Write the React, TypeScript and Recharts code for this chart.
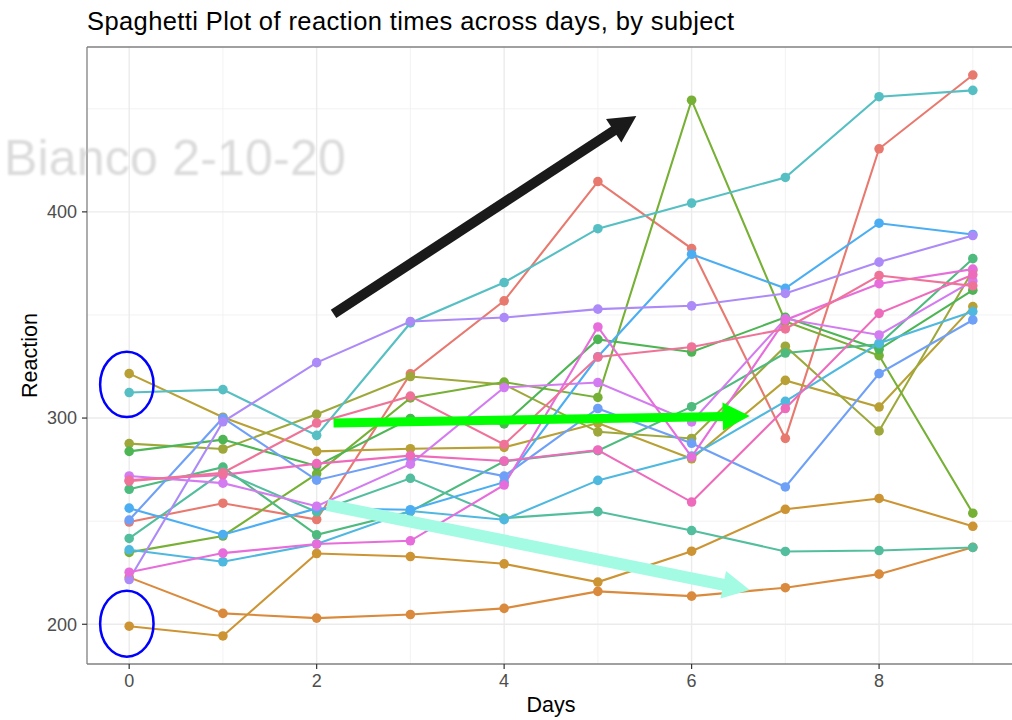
import { LineChart, Line, XAxis, YAxis, ReferenceLine, ReferenceArea } from 'recharts';

// sleepstudy: reaction time (ms) per subject, days 0..9
const DAYS = [0, 1, 2, 3, 4, 5, 6, 7, 8, 9];
const SUBJECTS = ['308', '309', '310', '330', '331', '332', '333', '334', '335', '337', '349', '350', '351', '352', '369', '370', '371', '372'];

const R308 = [249.56, 258.7, 250.8, 321.44, 356.85, 414.69, 382.2, 290.15, 430.59, 466.35];
const R309 = [222.73, 205.27, 202.98, 204.71, 207.72, 215.96, 213.63, 217.73, 224.3, 237.31];
const R310 = [199.05, 194.33, 234.32, 232.84, 229.31, 220.46, 235.42, 255.75, 261.01, 247.52];
const R330 = [321.54, 300.4, 283.86, 285.13, 285.8, 297.59, 280.24, 318.26, 305.35, 354.05];
const R331 = [287.61, 285.0, 301.82, 320.12, 316.28, 293.32, 290.08, 334.82, 293.75, 371.58];
const R332 = [234.86, 242.81, 272.96, 309.77, 317.46, 310.0, 454.16, 346.83, 330.3, 253.86];
const R333 = [283.84, 289.56, 276.77, 299.81, 297.17, 338.17, 332.03, 348.84, 333.36, 362.04];
const R334 = [265.47, 276.2, 243.36, 254.67, 279.02, 284.19, 305.52, 331.52, 335.75, 377.3];
const R335 = [241.61, 273.95, 254.49, 270.8, 251.45, 254.64, 245.45, 235.31, 235.75, 237.25];
const R337 = [312.37, 313.81, 291.61, 346.12, 365.73, 391.84, 404.26, 416.69, 455.86, 458.92];
const R349 = [236.1, 230.32, 238.93, 254.92, 250.71, 269.77, 281.56, 308.1, 336.28, 351.65];
const R350 = [256.3, 243.45, 256.2, 255.53, 268.92, 329.72, 379.44, 362.92, 394.49, 389.05];
const R351 = [250.53, 300.06, 269.89, 280.59, 271.83, 304.63, 287.75, 266.6, 321.54, 347.57];
const R352 = [221.68, 298.19, 326.88, 346.86, 348.74, 352.83, 354.43, 360.43, 375.64, 388.54];
const R369 = [271.92, 268.44, 257.24, 277.66, 314.82, 317.21, 298.14, 348.12, 340.28, 366.51];
const R370 = [225.26, 234.52, 238.9, 240.47, 267.54, 344.19, 281.15, 347.59, 365.16, 372.23];
const R371 = [269.88, 272.44, 277.9, 281.79, 279.17, 284.51, 259.27, 304.63, 350.78, 369.47];
const R372 = [269.41, 273.47, 297.6, 310.63, 287.17, 329.61, 334.48, 343.22, 369.14, 364.12];

const SERIES = [R308, R309, R310, R330, R331, R332, R333, R334, R335, R337, R349, R350, R351, R352, R369, R370, R371, R372];

const COLORS = [
  '#E8796F', '#DA8A3C', '#CC9433', '#B8A034', '#9EA83A', '#76B034',
  '#4DB553', '#4DBA7E', '#53BE9E', '#56BFC3', '#4EB8DF', '#4BAEF3',
  '#6EA0F7', '#AC8AF8', '#D37BF0', '#E66DDB', '#EE6BBC', '#EF7398',
];

const X_TICKS = [0, 2, 4, 6, 8];
const X_MINOR = [1, 3, 5, 7, 9];
const Y_TICKS = [200, 300, 400];
const Y_MINOR = [250, 350, 450];

// annotations, in data units
const ARROWS = [
  { from: [2.18, 350.5], to: [5.41, 446.5], color: '#1A1A1A', width: 10 },
  { from: [2.18, 297.6], to: [6.62, 301.0], color: '#00FF00', width: 9 },
  { from: [2.11, 257.9], to: [6.62, 216.6], color: '#A3FBE4', width: 12 },
];
const CIRCLES = [
  { x: [-0.31, 0.26], y: [300.5, 332.1] },
  { x: [-0.31, 0.26], y: [184.3, 216.3] },
];

const rows = DAYS.map((d, i) => {
  const r: Record<string, number> = { day: d };
  SUBJECTS.forEach((s, k) => { r['s' + s] = SERIES[k][i]; });
  return r;
});

const all = SERIES.flat();
const yMin = Math.min(...all);
const yMax = Math.max(...all);
const pad = (yMax - yMin) * 0.05;
const Y_DOMAIN = [yMin - pad, yMax + pad];
const X_DOMAIN = [-0.45, 9.45];

const FONT = '"Liberation Sans", Arial, Helvetica, sans-serif';
const BORDER = '#808080';

function arrowShape(color: string, w: number) {
  return (p: any) => {
    const { x1, y1, x2, y2 } = p;
    if ([x1, y1, x2, y2].some((v) => v == null || isNaN(v))) return <g />;
    const dx = x2 - x1;
    const dy = y2 - y1;
    const len = Math.sqrt(dx * dx + dy * dy);
    const ux = dx / len;
    const uy = dy / len;
    const hl = 27;
    const hw = 14;
    const bx = x2 - ux * hl;
    const by = y2 - uy * hl;
    const nx = -uy;
    const ny = ux;
    return (
      <g>
        <line x1={x1} y1={y1} x2={bx + ux * 2} y2={by + uy * 2} stroke={color} strokeWidth={w} />
        <polygon
          points={`${x2},${y2} ${bx + nx * hw},${by + ny * hw} ${bx - nx * hw},${by - ny * hw}`}
          fill={color}
        />
      </g>
    );
  };
}

const ellipseShape = (p: any) => {
  const { x, y, width, height } = p;
  if ([x, y, width, height].some((v) => v == null || isNaN(v))) return <g />;
  return (
    <ellipse
      cx={x + width / 2}
      cy={y + height / 2}
      rx={Math.abs(width) / 2}
      ry={Math.abs(height) / 2}
      fill="none"
      stroke="#0000FF"
      strokeWidth={2.5}
    />
  );
};

export default function App() {
  return (
    <div style={{ position: 'absolute', left: 0, top: 0, width: 1012, height: 720, overflow: 'hidden', background: '#fff', fontFamily: FONT }}>
      <LineChart
        width={1030}
        height={720}
        data={rows}
        margin={{ top: 47, right: 15, bottom: 0, left: 0 }}
        style={{ fontFamily: FONT }}
      >
        {X_MINOR.map((v) => (
          <ReferenceLine key={'xm' + v} x={v} stroke="#F0F0F0" strokeWidth={0.9} zIndex={-50} />
        ))}
        {Y_MINOR.map((v) => (
          <ReferenceLine key={'ym' + v} y={v} stroke="#F0F0F0" strokeWidth={0.9} zIndex={-50} />
        ))}
        {X_TICKS.map((v) => (
          <ReferenceLine key={'xg' + v} x={v} stroke="#EBEBEB" strokeWidth={1.4} zIndex={-50} />
        ))}
        {Y_TICKS.map((v) => (
          <ReferenceLine key={'yg' + v} y={v} stroke="#EBEBEB" strokeWidth={1.4} zIndex={-50} />
        ))}
        <ReferenceLine y={Y_DOMAIN[1]} stroke={BORDER} strokeWidth={1.3} ifOverflow="visible" zIndex={-40} />
        <XAxis
          type="number"
          dataKey="day"
          domain={X_DOMAIN}
          ticks={X_TICKS}
          allowDataOverflow
          height={56}
          tickSize={5}
          tickMargin={5}
          axisLine={{ stroke: BORDER, strokeWidth: 1.3 }}
          tickLine={{ stroke: '#333333', strokeWidth: 1.2 }}
          tick={{ fill: '#4D4D4D', fontSize: 18, fontFamily: FONT }}
          label={{ value: 'Days', position: 'insideBottom', offset: 8, fill: '#000', fontSize: 21.5, fontFamily: FONT }}
        />
        <YAxis
          type="number"
          domain={Y_DOMAIN}
          ticks={Y_TICKS}
          allowDataOverflow
          width={87}
          tickSize={5}
          tickMargin={5}
          axisLine={{ stroke: BORDER, strokeWidth: 1.3 }}
          tickLine={{ stroke: '#333333', strokeWidth: 1.2 }}
          tick={{ fill: '#4D4D4D', fontSize: 18, fontFamily: FONT }}
          label={{ value: 'Reaction', angle: -90, position: 'insideLeft', offset: 29, fill: '#000', fontSize: 21.5, fontFamily: FONT, style: { textAnchor: 'middle' } }}
        />
        {SUBJECTS.map((s, k) => (
          <Line
            key={s}
            dataKey={'s' + s}
            type="linear"
            stroke={COLORS[k]}
            strokeWidth={2.1}
            dot={{ r: 4.8, fill: COLORS[k], stroke: 'none' }}
            activeDot={false}
            isAnimationActive={false}
          />
        ))}
        {CIRCLES.map((c, i) => (
          <ReferenceArea
            key={'c' + i}
            x1={c.x[0]}
            x2={c.x[1]}
            y1={c.y[0]}
            y2={c.y[1]}
            ifOverflow="visible"
            shape={ellipseShape}
            zIndex={1000}
          />
        ))}
        {ARROWS.map((a, i) => (
          <ReferenceLine
            key={'a' + i}
            segment={[{ x: a.from[0], y: a.from[1] }, { x: a.to[0], y: a.to[1] }]}
            ifOverflow="visible"
            shape={arrowShape(a.color, a.width)}
            zIndex={1000}
          />
        ))}
      </LineChart>
      <div style={{ position: 'absolute', left: 87, top: 8.5, fontSize: 25.5, letterSpacing: 0.4, lineHeight: 1, color: '#000', whiteSpace: 'nowrap' }}>
        Spaghetti Plot of reaction times across days, by subject
      </div>
      <div style={{ position: 'absolute', left: 4, top: 133, fontSize: 50, letterSpacing: 0.2, lineHeight: 1, color: 'rgba(190,190,190,0.55)', filter: 'blur(1.2px)', whiteSpace: 'nowrap', pointerEvents: 'none' }}>
        Bianco 2-10-20
      </div>
    </div>
  );
}
